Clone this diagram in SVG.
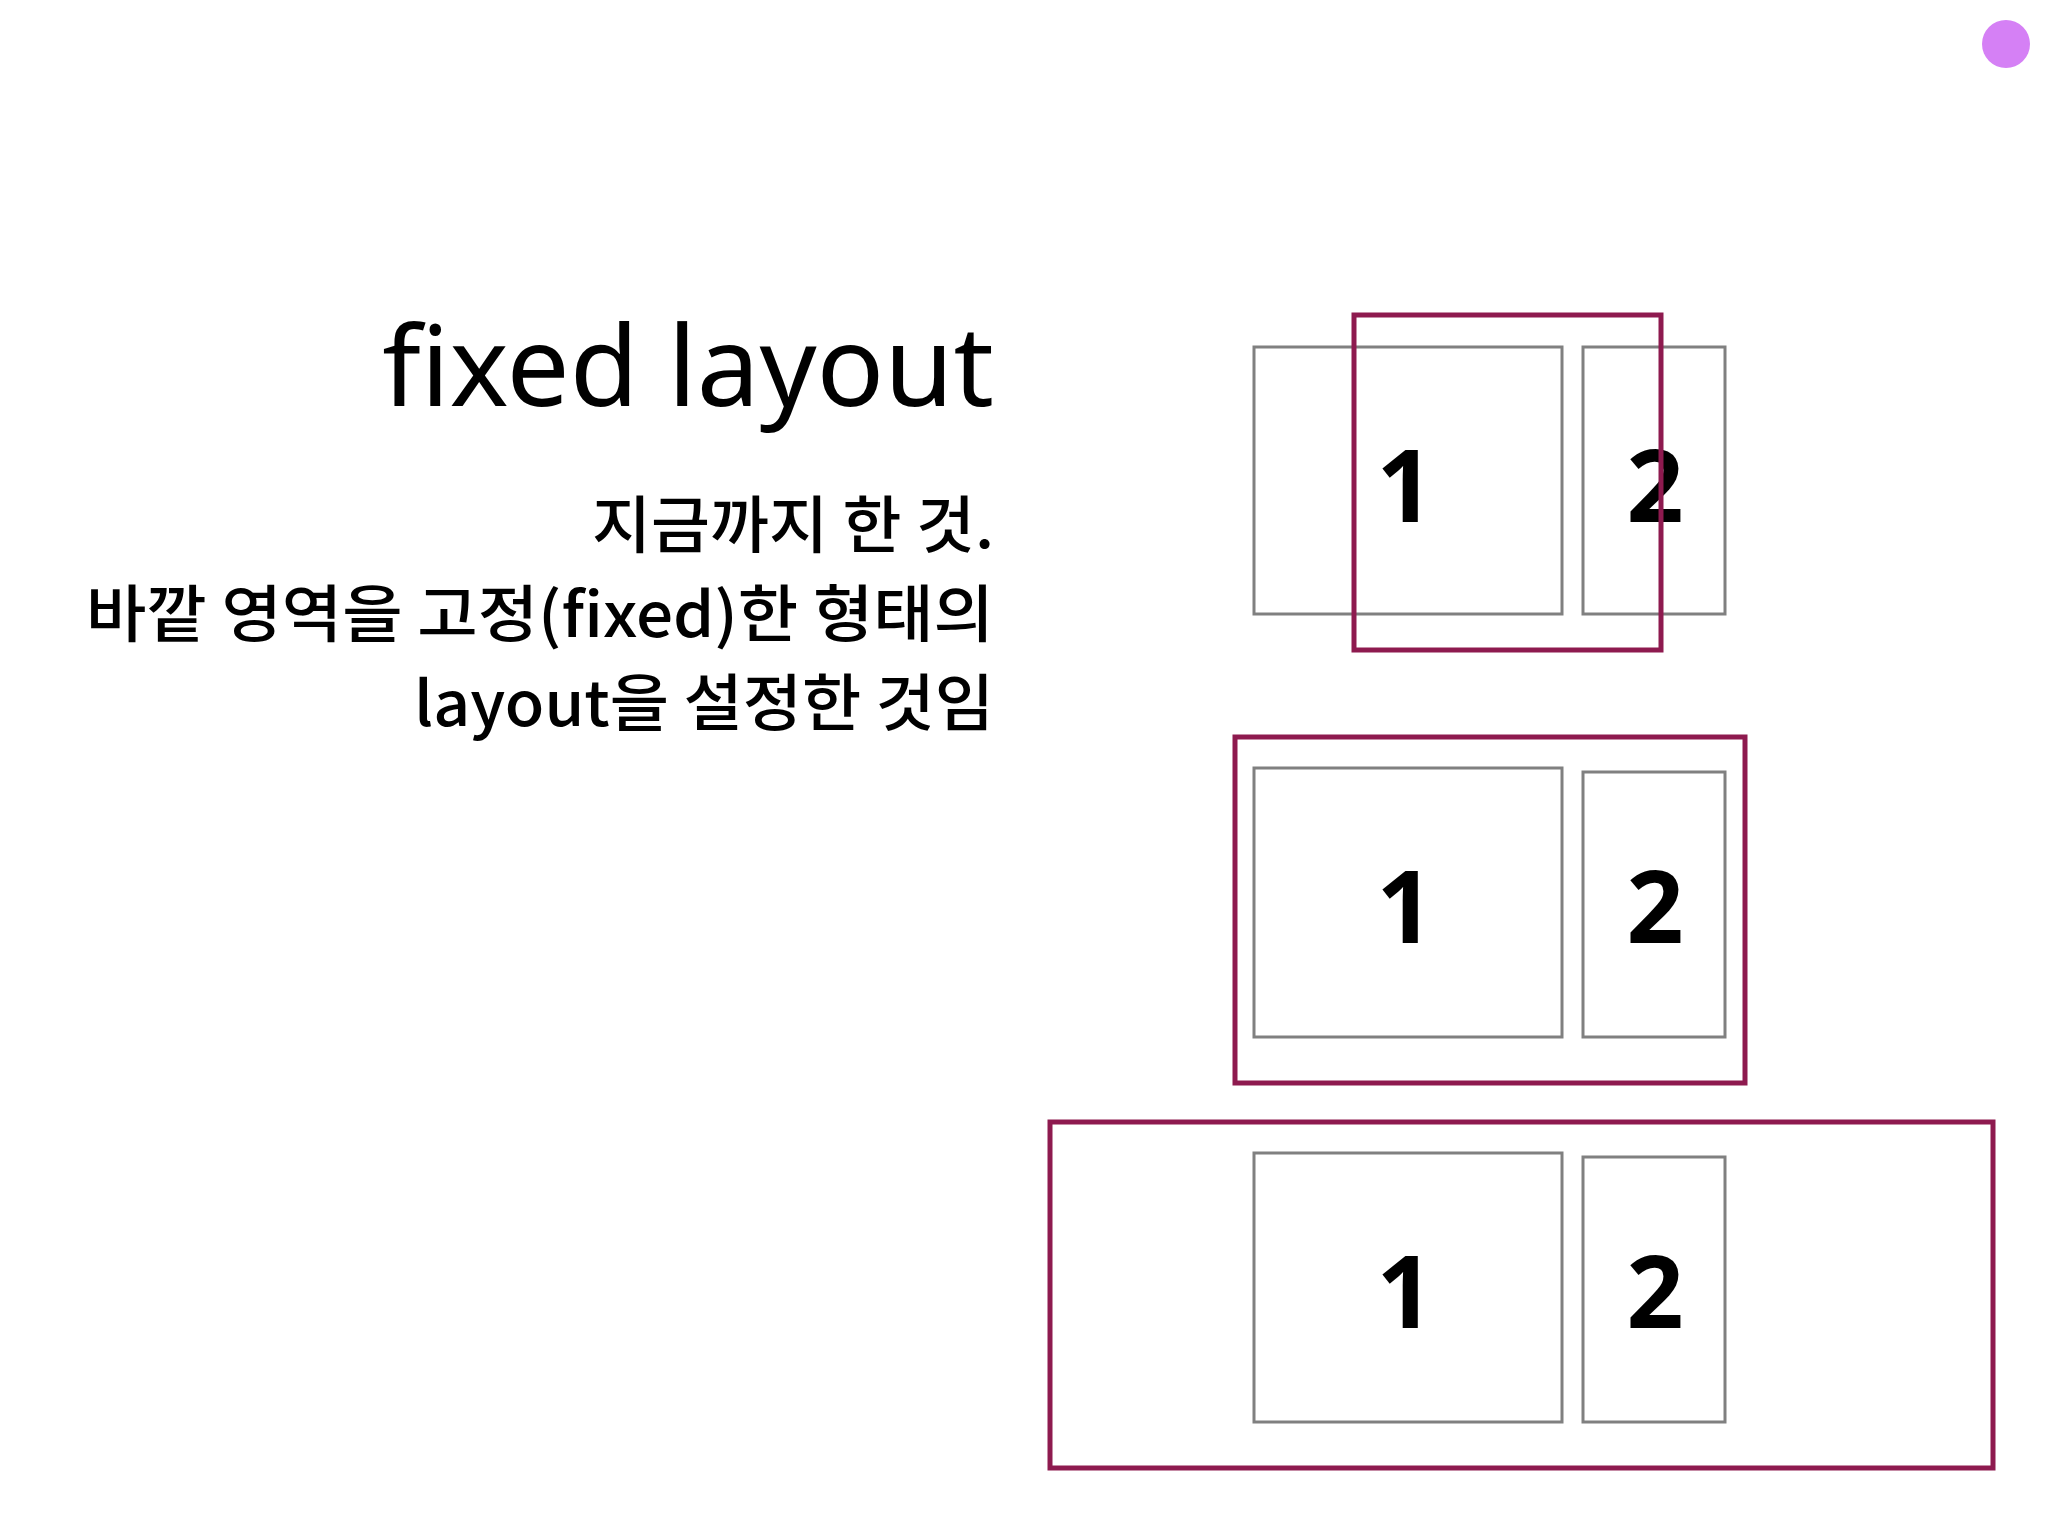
<svg xmlns="http://www.w3.org/2000/svg" width="2048" height="1536" viewBox="0 0 2048 1536">
<style>
.g{fill:none;stroke:#808080;stroke-width:3}
.r{fill:none;stroke:#8e1a4f;stroke-width:5}
.n{font-family:"Noto Sans","Liberation Sans",sans-serif;font-weight:bold;font-size:100px;text-anchor:middle;fill:#000}
.t{font-family:"Noto Sans","Noto Sans CJK KR",sans-serif;text-anchor:end;fill:#000}
.k{font-family:"Noto Sans CJK KR",sans-serif;font-weight:500;text-anchor:end;fill:#000}
</style>
<rect width="2048" height="1536" fill="#fff"/>
<circle cx="2006" cy="44" r="24" fill="#d580f5"/>
<g id="text">
<text class="t" x="994" y="406" font-size="112">fixed layout</text>
<text class="k" x="994" y="548" font-size="62" textLength="402" lengthAdjust="spacingAndGlyphs">지금까지 한 것.</text>
<text class="k" x="994" y="637" font-size="62" textLength="908" lengthAdjust="spacingAndGlyphs">바깥 영역을 고정(fixed)한 형태의</text>
<text class="k" x="994" y="726" font-size="62" textLength="580" lengthAdjust="spacingAndGlyphs">layout을 설정한 것임</text>
</g>
<g id="diagram1">
<rect class="g" x="1254" y="347" width="308" height="267"/>
<rect class="g" x="1583" y="347" width="142" height="267"/>
<text class="n" x="1405" y="522">1</text>
<text class="n" x="1655" y="522">2</text>
<rect class="r" x="1354" y="315" width="307" height="335"/>
</g>
<g id="diagram2">
<rect class="r" x="1235" y="737" width="510" height="346"/>
<rect class="g" x="1254" y="768" width="308" height="269"/>
<rect class="g" x="1583" y="772" width="142" height="265"/>
<text class="n" x="1405" y="943">1</text>
<text class="n" x="1655" y="943">2</text>
</g>
<g id="diagram3">
<rect class="r" x="1050" y="1122" width="943" height="346"/>
<rect class="g" x="1254" y="1153" width="308" height="269"/>
<rect class="g" x="1583" y="1157" width="142" height="265"/>
<text class="n" x="1405" y="1328">1</text>
<text class="n" x="1655" y="1328">2</text>
</g>
</svg>
